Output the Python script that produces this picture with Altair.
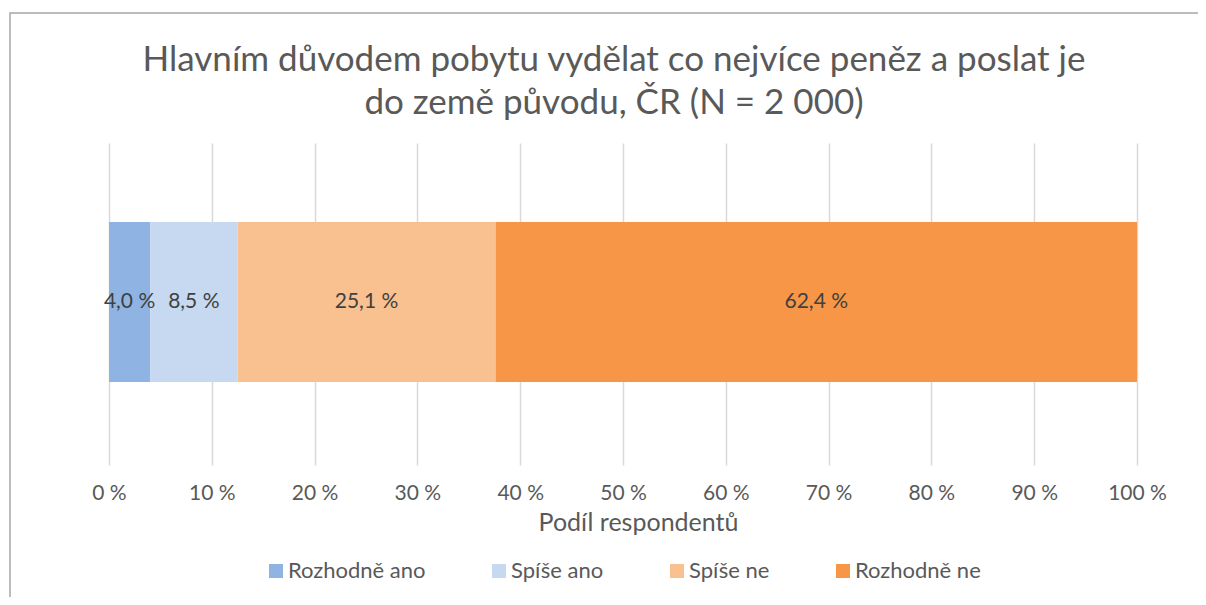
import altair as alt
import pandas as pd

categories = ["Rozhodně ano", "Spíše ano", "Spíše ne", "Rozhodně ne"]
values = [4.0, 8.5, 25.1, 62.4]
colors = ["#8FB4E3", "#C6D9F1", "#F9C090", "#F79646"]
tick_values = [0, 10, 20, 30, 40, 50, 60, 70, 80, 90, 100]

FONT = "Lato"

df = pd.DataFrame({
    "kat": categories,
    "hodnota": values,
    "poradi": list(range(len(categories))),
    "q": ["Q"] * len(categories),
})

base = alt.Chart(df).transform_stack(
    stack="hodnota", groupby=["q"], as_=["x0", "x1"],
    sort=[alt.SortField("poradi", order="ascending")]
).transform_calculate(
    mid="(datum.x0 + datum.x1) / 2",
    lab="replace(format(datum.hodnota, '.1f'), '.', ',') + ' %'"
)

xscale = alt.Scale(domain=[0, 100], nice=False, zero=True)

bars = base.mark_bar(size=160, yOffset=-2).encode(
    x=alt.X("x0:Q", scale=xscale,
            axis=alt.Axis(values=tick_values, labelExpr="datum.value + ' %'",
                          labelFlush=False, labelOverlap=False,
                          titleX=529, titleAlign="center",
                          title="Podíl respondentů")),
    x2="x1:Q",
    y=alt.Y("q:N", axis=None),
    color=alt.Color("kat:N", scale=alt.Scale(domain=categories, range=colors),
                    sort=categories,
                    legend=alt.Legend(title=None, orient="none", direction="horizontal",
                                      legendX=156, legendY=417,
                                      symbolType="square", symbolSize=196,
                                      symbolStrokeWidth=0,
                                      labelFontSize=22, labelColor="#595959",
                                      labelFont=FONT, columnPadding=62,
                                      labelOffset=1)),
)

labels = base.mark_text(fontSize=21, color="#404040", font=FONT, yOffset=-2).encode(
    x=alt.X("mid:Q", scale=xscale),
    y=alt.Y("q:N", axis=None),
    text="lab:N",
)

border_df = pd.DataFrame({"b": [0]})
border = alt.Chart(border_df).mark_rect(
    fill=None, stroke="#A6A6A6", strokeWidth=1.5, clip=False
).encode(
    x=alt.value(-99), x2=alt.value(1110), y=alt.value(-130), y2=alt.value(480)
)

chart = alt.layer(border, bars, labels).properties(
    width=1028,
    height=322,
    autosize=alt.AutoSizeParams(type="none"),
    padding={"left": 101, "top": 135, "right": 61, "bottom": 132},
    title=alt.Title(
        ["Hlavním důvodem pobytu vydělat co nejvíce peněz a poslat je",
         "do země původu, ČR (N = 2 000)"],
        fontSize=35, font=FONT, fontWeight="normal", color="#595959",
        lineHeight=43, anchor="middle", dx=-9, offset=-109,
    ),
).configure_view(stroke=None).configure_axis(
    grid=True, gridColor="#D9D9D9", gridWidth=1.5,
    domain=False, ticks=False,
    labelFont=FONT, labelFontSize=21, labelColor="#595959", labelPadding=17,
    titleFont=FONT, titleFontSize=25, titleColor="#595959", titleFontWeight="normal",
    titlePadding=7,
)

chart.save("out.html", embed_options={"renderer": "svg", "actions": False})
